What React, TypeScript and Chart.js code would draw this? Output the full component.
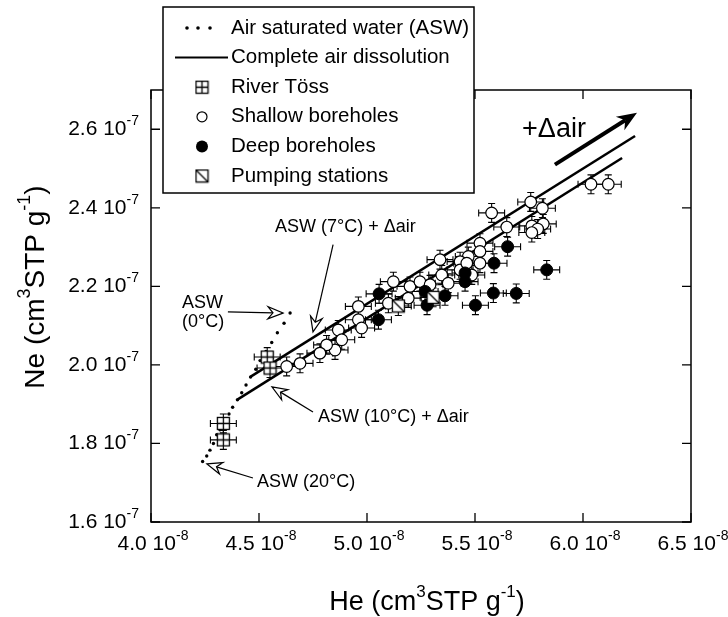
import React, { useEffect, useRef } from "react";
import { Chart, registerables } from "chart.js";

Chart.register(...registerables);

const FONT = '"Liberation Sans", Arial, Helvetica, sans-serif';

// Axis ranges (He in 1e-8, Ne in 1e-7 cm3STP/g)
const X_MIN = 4.0;
const X_MAX = 6.5;
const Y_MIN = 1.6;
const Y_MAX = 2.7;

const xTickValues = [4.0, 4.5, 5.0, 5.5, 6.0, 6.5];
const xTickLabels = ["4.0", "4.5", "5.0", "5.5", "6.0", "6.5"];
const xTickExp = "-8";
const yTickValues = [1.6, 1.8, 2.0, 2.2, 2.4, 2.6];
const yTickLabels = ["1.6", "1.8", "2.0", "2.2", "2.4", "2.6"];
const yTickExp = "-7";

// Air saturated water curve (0°C at top, 20°C at bottom)
const aswHe = [4.644, 4.616, 4.585, 4.559, 4.532, 4.505, 4.485, 4.461, 4.44, 4.42, 4.4, 4.378, 4.361, 4.348, 4.335, 4.319, 4.304, 4.289, 4.273, 4.258, 4.239];
const aswNe = [2.132, 2.106, 2.082, 2.057, 2.034, 2.011, 1.989, 1.969, 1.949, 1.929, 1.911, 1.892, 1.875, 1.863, 1.851, 1.835, 1.822, 1.8, 1.783, 1.768, 1.754];

// Complete air dissolution lines
const upperLineHe = [4.458, 6.241];
const upperLineNe = [1.969, 2.583];
const lowerLineHe = [4.398, 6.181];
const lowerLineNe = [1.911, 2.527];

// Samples
const riverHe = [4.538, 4.551, 4.335, 4.335];
const riverNe = [2.02, 1.992, 1.851, 1.809];

const shallowHe = [6.037, 6.117, 5.758, 5.812, 5.577, 5.647, 5.763, 5.816, 5.79, 5.763, 5.523, 5.523, 5.469, 5.338, 5.523, 5.431, 5.431, 5.485, 5.346, 5.376, 5.122, 5.199, 5.245, 5.292, 5.191, 5.099, 4.96, 4.96, 4.975, 4.867, 4.883, 4.852, 4.813, 4.782, 4.69, 4.628, 5.462];
const shallowNe = [2.46, 2.46, 2.415, 2.399, 2.387, 2.351, 2.354, 2.359, 2.346, 2.337, 2.31, 2.289, 2.276, 2.268, 2.259, 2.263, 2.242, 2.229, 2.229, 2.208, 2.212, 2.2, 2.212, 2.204, 2.17, 2.157, 2.149, 2.115, 2.094, 2.089, 2.064, 2.038, 2.051, 2.03, 2.004, 1.996, 2.259];

const deepHe = [5.651, 5.588, 5.832, 5.454, 5.454, 5.269, 5.361, 5.585, 5.691, 5.502, 5.278, 5.056, 5.053];
const deepNe = [2.301, 2.259, 2.242, 2.234, 2.212, 2.187, 2.176, 2.183, 2.182, 2.152, 2.152, 2.181, 2.115];

const pumpHe = [5.306, 5.145];
const pumpNe = [2.172, 2.15];

const errHe = 0.06;
const errNe = 0.024;

// Annotation anchors (data units)
const deltaArrow = [5.87, 2.51, 6.25, 2.642];
const annoArrows = [
  [4.356, 2.135, 4.611, 2.132],
  [4.843, 2.306, 4.75, 2.084],
  [4.75, 1.88, 4.56, 1.944],
  [4.472, 1.712, 4.259, 1.748],
];
const annoTexts: [string, number, number][] = [
  ["ASW (7°C) + \u0394air", 4.574, 2.352],
  ["ASW", 4.144, 2.158],
  ["(0°C)", 4.144, 2.11],
  ["ASW (10°C) + \u0394air", 4.773, 1.868],
  ["ASW (20°C)", 4.491, 1.702],
];
const deltaLabel: [string, number, number] = ["+\u0394air", 5.718, 2.599];

const legendLabels = [
  "Air saturated water (ASW)",
  "Complete air dissolution",
  "River Töss",
  "Shallow boreholes",
  "Deep boreholes",
  "Pumping stations",
];

function pts(xs: number[], ys: number[]) {
  return xs.map((x, i) => ({ x, y: ys[i] }));
}

type Part = { t: string; sup?: boolean };

function drawRich(
  ctx: CanvasRenderingContext2D,
  parts: Part[],
  x: number,
  y: number,
  size: number,
  supSize: number,
  raise: number,
  align: "left" | "center" | "right"
) {
  const widths = parts.map((p) => {
    ctx.font = `${p.sup ? supSize : size}px ${FONT}`;
    return ctx.measureText(p.t).width;
  });
  const total = widths.reduce((a, b) => a + b, 0);
  let cx = align === "left" ? x : align === "center" ? x - total / 2 : x - total;
  ctx.textAlign = "left";
  ctx.textBaseline = "middle";
  parts.forEach((p, i) => {
    ctx.font = `${p.sup ? supSize : size}px ${FONT}`;
    ctx.fillText(p.t, cx, p.sup ? y - raise : y);
    cx += widths[i];
  });
}

function drawOpenArrow(ctx: CanvasRenderingContext2D, x1: number, y1: number, x2: number, y2: number) {
  const ang = Math.atan2(y2 - y1, x2 - x1);
  const L = 15, W = 6, N = 10;
  const c = Math.cos(ang), s = Math.sin(ang);
  const nx = x2 - N * c, ny = y2 - N * s;
  const bx = x2 - L * c, by = y2 - L * s;
  const px = -s, py = c;
  ctx.beginPath();
  ctx.moveTo(x1, y1);
  ctx.lineTo(nx, ny);
  ctx.stroke();
  ctx.beginPath();
  ctx.moveTo(x2, y2);
  ctx.lineTo(bx + W * px, by + W * py);
  ctx.lineTo(nx, ny);
  ctx.lineTo(bx - W * px, by - W * py);
  ctx.closePath();
  ctx.fillStyle = "#fff";
  ctx.fill();
  ctx.stroke();
}

function makeSquare(kind: "plus" | "diag") {
  const c = document.createElement("canvas");
  c.width = 15;
  c.height = 15;
  const g = c.getContext("2d")!;
  g.fillStyle = "#fff";
  g.fillRect(1.5, 1.5, 12, 12);
  g.strokeStyle = "#000";
  g.lineWidth = 1.3;
  g.strokeRect(1.5, 1.5, 12, 12);
  g.beginPath();
  if (kind === "plus") {
    g.moveTo(7.5, 1.5);
    g.lineTo(7.5, 13.5);
    g.moveTo(1.5, 7.5);
    g.lineTo(13.5, 7.5);
  } else {
    g.moveTo(1.5, 1.5);
    g.lineTo(13.5, 13.5);
  }
  g.stroke();
  return c;
}

const errorBarPlugin = {
  id: "errorBars",
  beforeDatasetsDraw(chart: any) {
    const ctx = chart.ctx as CanvasRenderingContext2D;
    const xs = chart.scales.x, ys = chart.scales.y;
    ctx.save();
    ctx.strokeStyle = "#000";
    ctx.lineWidth = 1.1;
    chart.data.datasets.forEach((ds: any) => {
      if (!ds.errorBars) return;
      ds.data.forEach((p: any) => {
        const x0 = xs.getPixelForValue(p.x - errHe);
        const x1 = xs.getPixelForValue(p.x + errHe);
        const xc = xs.getPixelForValue(p.x);
        const y0 = ys.getPixelForValue(p.y - errNe);
        const y1 = ys.getPixelForValue(p.y + errNe);
        const yc = ys.getPixelForValue(p.y);
        ctx.beginPath();
        ctx.moveTo(x0, yc);
        ctx.lineTo(x1, yc);
        ctx.moveTo(x0, yc - 3.5);
        ctx.lineTo(x0, yc + 3.5);
        ctx.moveTo(x1, yc - 3.5);
        ctx.lineTo(x1, yc + 3.5);
        ctx.moveTo(xc, y0);
        ctx.lineTo(xc, y1);
        ctx.moveTo(xc - 3.5, y0);
        ctx.lineTo(xc + 3.5, y0);
        ctx.moveTo(xc - 3.5, y1);
        ctx.lineTo(xc + 3.5, y1);
        ctx.stroke();
      });
    });
    ctx.restore();
  },
};

function makeDecorPlugin(riverImg: HTMLCanvasElement, pumpImg: HTMLCanvasElement) {
  return {
    id: "decor",
    afterDraw(chart: any) {
      const ctx = chart.ctx as CanvasRenderingContext2D;
      const xs = chart.scales.x, ys = chart.scales.y;
      const a = chart.chartArea;
      ctx.save();
      ctx.fillStyle = "#000";
      ctx.strokeStyle = "#000";

      // frame
      ctx.lineWidth = 1.5;
      ctx.strokeRect(a.left, a.top, a.right - a.left, a.bottom - a.top);

      // inward ticks on all sides
      ctx.lineWidth = 1.3;
      ctx.beginPath();
      xTickValues.forEach((v) => {
        const px = xs.getPixelForValue(v);
        ctx.moveTo(px, a.bottom);
        ctx.lineTo(px, a.bottom - 9);
        ctx.moveTo(px, a.top);
        ctx.lineTo(px, a.top + 9);
      });
      yTickValues.forEach((v) => {
        const py = ys.getPixelForValue(v);
        ctx.moveTo(a.left, py);
        ctx.lineTo(a.left + 9, py);
        ctx.moveTo(a.right, py);
        ctx.lineTo(a.right - 9, py);
      });
      ctx.stroke();

      // tick labels
      xTickValues.forEach((v, i) => {
        const px = xs.getPixelForValue(v);
        drawRich(ctx, [{ t: xTickLabels[i] + " 10" }, { t: xTickExp, sup: true }], px + 2, a.bottom + 22, 21, 14, 8, "center");
      });
      yTickValues.forEach((v, i) => {
        const py = ys.getPixelForValue(v);
        drawRich(ctx, [{ t: yTickLabels[i] + " 10" }, { t: yTickExp, sup: true }], a.left - 12, py, 21, 14, 8, "right");
      });

      // axis titles
      drawRich(
        ctx,
        [{ t: "He (cm" }, { t: "3", sup: true }, { t: "STP g" }, { t: "-1", sup: true }, { t: ")" }],
        (a.left + a.right) / 2 + 6,
        603,
        27,
        17,
        11,
        "center"
      );
      ctx.save();
      ctx.translate(36, 287);
      ctx.rotate(-Math.PI / 2);
      drawRich(
        ctx,
        [{ t: "Ne (cm" }, { t: "3", sup: true }, { t: "STP g" }, { t: "-1", sup: true }, { t: ")" }],
        0,
        0,
        28,
        18,
        11,
        "center"
      );
      ctx.restore();

      // annotation arrows
      ctx.lineWidth = 1.2;
      annoArrows.forEach((r) => {
        drawOpenArrow(ctx, xs.getPixelForValue(r[0]), ys.getPixelForValue(r[1]), xs.getPixelForValue(r[2]), ys.getPixelForValue(r[3]));
      });
      ctx.fillStyle = "#000";
      annoTexts.forEach(([t, x, y]) => {
        drawRich(ctx, [{ t }], xs.getPixelForValue(x), ys.getPixelForValue(y), 18, 12, 6, "left");
      });

      // +Δair arrow
      {
        const x1 = xs.getPixelForValue(deltaArrow[0]);
        const y1 = ys.getPixelForValue(deltaArrow[1]);
        const x2 = xs.getPixelForValue(deltaArrow[2]);
        const y2 = ys.getPixelForValue(deltaArrow[3]);
        const ang = Math.atan2(y2 - y1, x2 - x1);
        const c = Math.cos(ang), s = Math.sin(ang);
        const L = 20, W = 8, N = 14;
        ctx.lineWidth = 4;
        ctx.beginPath();
        ctx.moveTo(x1, y1);
        ctx.lineTo(x2 - N * c, y2 - N * s);
        ctx.stroke();
        const bx = x2 - L * c, by = y2 - L * s;
        ctx.beginPath();
        ctx.moveTo(x2, y2);
        ctx.lineTo(bx - W * s, by + W * c);
        ctx.lineTo(x2 - N * c, y2 - N * s);
        ctx.lineTo(bx + W * s, by - W * c);
        ctx.closePath();
        ctx.fill();
        drawRich(ctx, [{ t: deltaLabel[0] }], xs.getPixelForValue(deltaLabel[1]), ys.getPixelForValue(deltaLabel[2]), 27, 16, 8, "left");
      }

      // legend box
      const lx = 163, ly = 7, lw = 311, lh = 186;
      ctx.fillStyle = "#fff";
      ctx.fillRect(lx, ly, lw, lh);
      ctx.lineWidth = 1.5;
      ctx.strokeStyle = "#000";
      ctx.strokeRect(lx, ly, lw, lh);
      ctx.fillStyle = "#000";
      const rowY = (i: number) => ly + 21 + i * 29.6;
      const symX = 202;
      // ASW dots
      [187, 198, 210].forEach((dx) => {
        ctx.beginPath();
        ctx.arc(dx, rowY(0), 1.8, 0, Math.PI * 2);
        ctx.fill();
      });
      // line
      ctx.lineWidth = 2;
      ctx.beginPath();
      ctx.moveTo(175, rowY(1));
      ctx.lineTo(228, rowY(1));
      ctx.stroke();
      ctx.drawImage(riverImg, symX - 7.5, rowY(2) - 7.5);
      ctx.lineWidth = 1.2;
      ctx.beginPath();
      ctx.arc(symX, rowY(3), 5, 0, Math.PI * 2);
      ctx.stroke();
      ctx.beginPath();
      ctx.arc(symX, rowY(4), 6, 0, Math.PI * 2);
      ctx.fill();
      ctx.drawImage(pumpImg, symX - 7.5, rowY(5) - 7.5);
      legendLabels.forEach((t, i) => {
        drawRich(ctx, [{ t }], 231, rowY(i), 20.5, 14, 7, "left");
      });

      ctx.restore();
    },
  };
}

export default function App() {
  const ref = useRef<HTMLCanvasElement>(null);
  useEffect(() => {
    const riverImg = makeSquare("plus");
    const pumpImg = makeSquare("diag");
    const chart = new Chart(ref.current!, {
      type: "scatter",
      data: {
        datasets: [
          {
            label: "Pumping stations",
            data: pts(pumpHe, pumpNe),
            pointStyle: pumpImg as any,
            pointRadius: 7,
            errorBars: true,
          } as any,
          {
            label: "Deep boreholes",
            data: pts(deepHe, deepNe),
            pointStyle: "circle",
            pointRadius: 6,
            backgroundColor: "#000",
            borderColor: "#000",
            borderWidth: 1,
            errorBars: true,
          } as any,
          {
            label: "Shallow boreholes",
            data: pts(shallowHe, shallowNe),
            pointStyle: "circle",
            pointRadius: 5.8,
            backgroundColor: "#fff",
            borderColor: "#000",
            borderWidth: 1.2,
            errorBars: true,
          } as any,
          {
            label: "River Töss",
            data: pts(riverHe, riverNe),
            pointStyle: riverImg as any,
            pointRadius: 7,
            errorBars: true,
          } as any,
          {
            label: "Complete air dissolution (upper)",
            data: pts(upperLineHe, upperLineNe),
            showLine: true,
            pointRadius: 0,
            borderColor: "#000",
            borderWidth: 2.5,
          } as any,
          {
            label: "Complete air dissolution (lower)",
            data: pts(lowerLineHe, lowerLineNe),
            showLine: true,
            pointRadius: 0,
            borderColor: "#000",
            borderWidth: 2.5,
          } as any,
          {
            label: "Air saturated water (ASW)",
            data: pts(aswHe, aswNe),
            pointStyle: "circle",
            pointRadius: 1.7,
            backgroundColor: "#000",
            borderColor: "#000",
            borderWidth: 0,
          } as any,
        ],
      },
      options: {
        animation: false,
        responsive: false,
        events: [],
        layout: { padding: { left: 151, top: 90, right: 37, bottom: 95 } },
        scales: {
          x: { type: "linear", min: X_MIN, max: X_MAX, display: false },
          y: { type: "linear", min: Y_MIN, max: Y_MAX, display: false },
        },
        plugins: { legend: { display: false }, tooltip: { enabled: false } },
      },
      plugins: [errorBarPlugin, makeDecorPlugin(riverImg, pumpImg)],
    });
    return () => chart.destroy();
  }, []);
  return (
    <div style={{ position: "fixed", left: 0, top: 0, width: 728, height: 617, background: "#fff" }}>
      <canvas ref={ref} width={728} height={617} style={{ display: "block", width: 728, height: 617 }} />
    </div>
  );
}
